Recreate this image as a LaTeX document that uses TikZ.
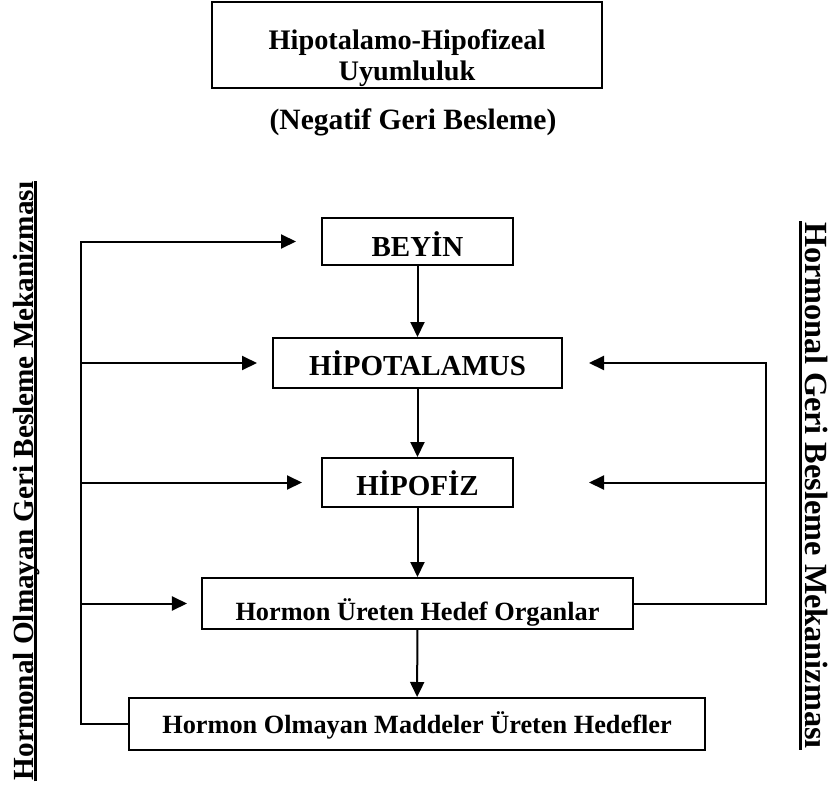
\documentclass[tikz,border=0pt]{standalone}
\usepackage{fontspec}
\setmainfont{Liberation Serif}
\usetikzlibrary{arrows.meta,calc}
\tikzset{
  px/.style={x=1bp,y=-1bp,line width=2bp},
  organ/.style={draw,line width=2bp,inner sep=0pt,text depth=0pt,font=\fontsize{29bp}{29bp}\selectfont\bfseries},
  hedef/.style={organ,font=\fontsize{26.3bp}{26.3bp}\selectfont\bfseries},
  side/.style={inner sep=0pt,anchor=base},
  arr/.style={-{Triangle[length=15bp,width=14bp]},line width=2bp},
}

\begin{document}
\begin{tikzpicture}[px]
  \useasboundingbox (0,0) rectangle (829,789);
  % baslik
  \node[draw,line width=2bp,inner sep=0pt,minimum width=390bp,text height=79bp,text depth=7bp,anchor=base,
        font=\fontsize{28.3bp}{31bp}\selectfont\bfseries] (title) at (407,81)
        {\begin{tabular}[b]{c}Hipotalamo-Hipofizeal\\Uyumluluk\end{tabular}};
  \node[anchor=base,inner sep=0pt,font=\fontsize{29.5bp}{30bp}\selectfont\bfseries] (neg) at (413,129) {(Negatif Geri Besleme)};
  % organlar
  \node[organ,minimum width=191bp,minimum height=47bp,text height=29bp] (beyin) at (417.5,241.5) {BEYİN};
  \node[organ,minimum width=289bp,minimum height=50bp,text height=24bp] (hipot) at (417.5,363) {HİPOTALAMUS};
  \node[organ,minimum width=191bp,minimum height=49bp,text height=25bp] (hipof) at (417.5,482.5) {HİPOFİZ};
  \node[hedef,minimum width=431bp,minimum height=51bp,text height=33bp] (horm) at (417.5,603.5) {Hormon Üreten Hedef Organlar};
  \node[hedef,minimum width=576bp,minimum height=52bp,text height=18bp] (nonhorm) at (417,724) {Hormon Olmayan Maddeler Üreten Hedefler};
  \draw[arr] (beyin) -- (hipot);
  \draw[arr] (hipot) -- (hipof);
  \draw[arr] (hipof) -- (horm);
  \draw[arr] (horm) -- (nonhorm);
  % sol: hormonal olmayan geri besleme
  \coordinate (lrail) at (81,0);
  \draw[arr,shorten >=25bp] (nonhorm.west) -| (lrail |- beyin) -- (beyin.west);
  \draw[arr,shorten >=15bp] (lrail |- hipot) -- (hipot.west);
  \draw[arr,shorten >=19bp] (lrail |- hipof) -- (hipof.west);
  \draw[arr,shorten >=14bp] (lrail |- horm) -- (horm.west);
  % sag: hormonal geri besleme
  \coordinate (rrail) at (766,0);
  \draw[arr,shorten >=26bp] (horm.east) -| (rrail |- hipot) -- (hipot.east);
  \draw[arr,shorten >=75bp] (rrail |- hipof) -- (hipof.east);
  % yan yazilar
  \node[side,rotate=90,font=\fontsize{29.2bp}{30bp}\selectfont\bfseries] (lside) at (33,481) {Hormonal Olmayan Geri Besleme Mekanizması};
  \draw[line width=3bp] ($(lside.base west)+(2.5,0)$) -- ($(lside.base east)+(2.5,0)$);
  \node[side,rotate=-90,font=\fontsize{32.3bp}{33bp}\selectfont\bfseries] (rside) at (805,485.5) {Hormonal Geri Besleme Mekanizması};
  \draw[line width=3.5bp] ($(rside.base west)+(-4.5,0)$) -- ($(rside.base east)+(-4.5,0)$);
\end{tikzpicture}
\end{document}
